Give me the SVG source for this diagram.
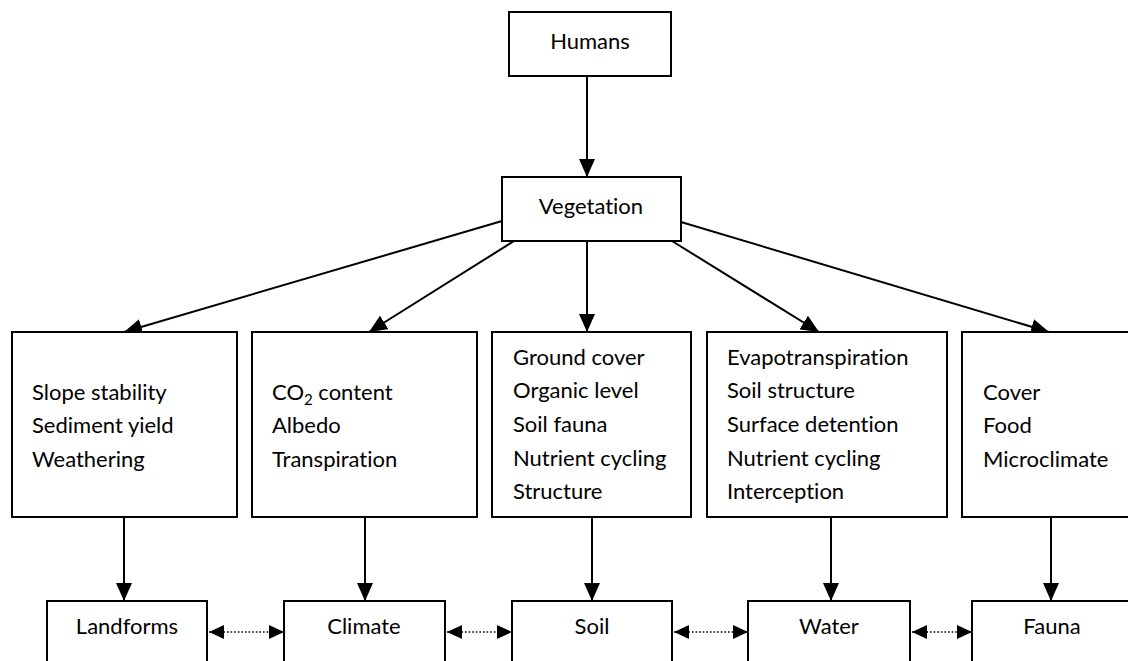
<svg xmlns="http://www.w3.org/2000/svg" width="1128" height="661" viewBox="0 0 1128 661">
  <style>
    .box { fill: #ffffff; stroke: #000000; stroke-width: 2; }
    .lbl { font-family: Lato, "Open Sans", "Liberation Sans", sans-serif; font-size: 22px; fill: #000000; font-variant-ligatures: none; font-feature-settings: "liga" 0; }
    .mid { text-anchor: middle; }
    .link { stroke: #000000; stroke-width: 2; fill: none; marker-end: url(#head); }
    .dots { stroke: #000000; stroke-width: 1.6; stroke-dasharray: 1.6 2; fill: none; marker-start: url(#headRev); marker-end: url(#head2); }
  </style>
  <defs>
    <marker id="head" markerUnits="userSpaceOnUse" markerWidth="18" markerHeight="16" refX="18" refY="8" orient="auto">
      <path d="M0,0 L18,8 L0,16 Z" fill="#000000"/>
    </marker>
    <marker id="head2" markerUnits="userSpaceOnUse" markerWidth="15" markerHeight="14" refX="15" refY="7" orient="auto">
      <path d="M0,0 L15,7 L0,14 Z" fill="#000000"/>
    </marker>
    <marker id="headRev" markerUnits="userSpaceOnUse" markerWidth="15" markerHeight="14" refX="0" refY="7" orient="auto">
      <path d="M15,0 L0,7 L15,14 Z" fill="#000000"/>
    </marker>
  </defs>
  <rect width="1128" height="661" fill="#ffffff"/>

  <!-- connectors -->
  <g id="connectors">
    <line class="link" x1="587" y1="76" x2="587" y2="177"/>
    <line class="link" x1="502" y1="221" x2="124" y2="332"/>
    <line class="link" x1="514" y1="241" x2="369" y2="332"/>
    <line class="link" x1="587" y1="241" x2="587" y2="332"/>
    <line class="link" x1="672" y1="241" x2="819" y2="332"/>
    <line class="link" x1="681" y1="222" x2="1049" y2="332"/>

    <line class="link" x1="124" y1="517" x2="124" y2="601"/>
    <line class="link" x1="365" y1="517" x2="365" y2="601"/>
    <line class="link" x1="592" y1="517" x2="592" y2="601"/>
    <line class="link" x1="831" y1="517" x2="831" y2="601"/>
    <line class="link" x1="1051" y1="517" x2="1051" y2="601"/>

    <line class="dots" x1="209" y1="632" x2="284" y2="632"/>
    <line class="dots" x1="447" y1="632" x2="512" y2="632"/>
    <line class="dots" x1="674" y1="632" x2="748" y2="632"/>
    <line class="dots" x1="912" y1="632" x2="972" y2="632"/>
  </g>

  <!-- top nodes -->
  <g id="humans">
    <rect class="box" x="509" y="12" width="162" height="64"/>
    <text class="lbl mid" x="590" y="49">Humans</text>
  </g>
  <g id="vegetation">
    <rect class="box" x="502" y="177" width="179" height="64"/>
    <text class="lbl mid" x="591" y="214">Vegetation</text>
  </g>

  <!-- effect boxes -->
  <g id="effects-landforms">
    <rect class="box" x="12" y="332" width="225" height="185"/>
    <text class="lbl" x="32" y="400">Slope stability</text>
    <text class="lbl" x="32" y="433">Sediment yield</text>
    <text class="lbl" x="32" y="467">Weathering</text>
  </g>
  <g id="effects-climate">
    <rect class="box" x="252" y="332" width="225" height="185"/>
    <text class="lbl" x="272" y="400">CO<tspan font-size="15" dy="5">2</tspan><tspan dy="-5"> content</tspan></text>
    <text class="lbl" x="272" y="433">Albedo</text>
    <text class="lbl" x="272" y="467">Transpiration</text>
  </g>
  <g id="effects-soil">
    <rect class="box" x="492" y="332" width="199" height="185"/>
    <text class="lbl" x="513" y="365">Ground cover</text>
    <text class="lbl" x="513" y="398">Organic level</text>
    <text class="lbl" x="513" y="432">Soil fauna</text>
    <text class="lbl" x="513" y="466">Nutrient cycling</text>
    <text class="lbl" x="513" y="499">Structure</text>
  </g>
  <g id="effects-water">
    <rect class="box" x="707" y="332" width="240" height="185"/>
    <text class="lbl" x="727" y="365">Evapotranspiration</text>
    <text class="lbl" x="727" y="398">Soil structure</text>
    <text class="lbl" x="727" y="432">Surface detention</text>
    <text class="lbl" x="727" y="466">Nutrient cycling</text>
    <text class="lbl" x="727" y="499">Interception</text>
  </g>
  <g id="effects-fauna">
    <rect class="box" x="962" y="332" width="180" height="185"/>
    <text class="lbl" x="983" y="400">Cover</text>
    <text class="lbl" x="983" y="433">Food</text>
    <text class="lbl" x="983" y="467">Microclimate</text>
  </g>

  <!-- bottom nodes -->
  <g id="landforms">
    <rect class="box" x="47" y="601" width="160" height="80"/>
    <text class="lbl mid" x="127" y="634">Landforms</text>
  </g>
  <g id="climate">
    <rect class="box" x="284" y="601" width="161" height="80"/>
    <text class="lbl mid" x="364" y="634">Climate</text>
  </g>
  <g id="soil">
    <rect class="box" x="512" y="601" width="160" height="80"/>
    <text class="lbl mid" x="592" y="634">Soil</text>
  </g>
  <g id="water">
    <rect class="box" x="748" y="601" width="162" height="80"/>
    <text class="lbl mid" x="829" y="634">Water</text>
  </g>
  <g id="fauna">
    <rect class="box" x="972" y="601" width="160" height="80"/>
    <text class="lbl mid" x="1052" y="634">Fauna</text>
  </g>
</svg>
